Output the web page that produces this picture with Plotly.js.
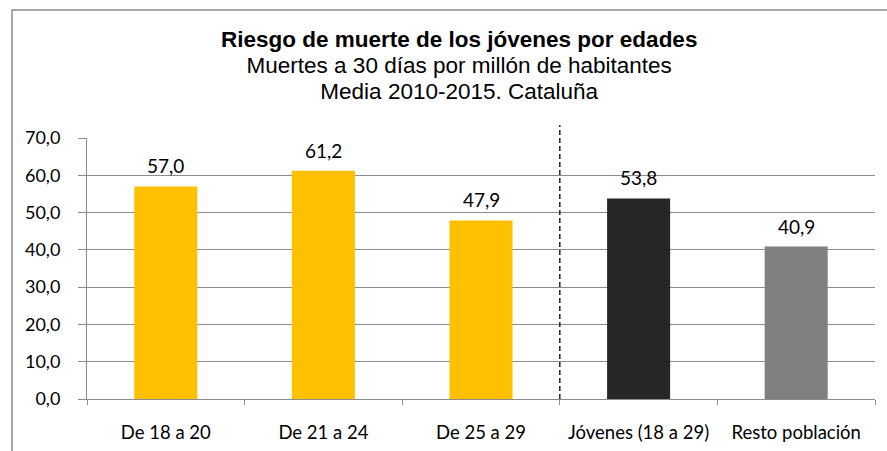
<!DOCTYPE html>
<html><head><meta charset="utf-8">
<script src="https://cdn.plot.ly/plotly-3.0.1.min.js"></script>
<style>html,body{margin:0;padding:0;background:#fff;}#chart{width:887px;height:451px;}</style>
</head><body><div id="chart"></div>
<script>
const categories = ["De 18 a 20", "De 21 a 24", "De 25 a 29", "Jóvenes (18 a 29)", "Resto población"];
const values = [57.0, 61.2, 47.9, 53.8, 40.9];
const barColors = ["#FFC000", "#FFC000", "#FFC000", "#262626", "#808080"];
const yTicks = [0, 10, 20, 30, 40, 50, 60, 70];
const titleLines = ["Riesgo de muerte de los jóvenes por edades", "Muertes a 30 días por millón de habitantes", "Media 2010-2015. Cataluña"];
const fmt = v => v.toFixed(1).replace('.', ',');

const trace = {
  type: 'bar', x: categories, y: values,
  marker: {color: barColors, line: {width: 0}},
  width: 0.4, hoverinfo: 'skip'
};
const annotations = categories.map((c, i) => ({
  x: c, y: values[i], xref: 'x', yref: 'y', text: fmt(values[i]),
  showarrow: false, yanchor: 'bottom', yshift: 7,
  font: {family: 'Lato, sans-serif', size: 19, color: '#000'}
}));
const big = s => '<span style="font-size:22.5px">' + s + '</span>';
annotations.push({
  xref: 'paper', yref: 'paper', x: 0.472, y: 1.279, xanchor: 'center', yanchor: 'middle',
  text: big('<b>' + titleLines[0] + '</b>') + '<br>' + big(titleLines[1]) + '<br>' + big(titleLines[2]),
  showarrow: false, align: 'center',
  font: {family: 'Liberation Sans, Arial, sans-serif', size: 20, color: '#000'}
});

const layout = {
  width: 887, height: 451,
  margin: {l: 87, r: 12, t: 138, b: 52},
  paper_bgcolor: '#fff', plot_bgcolor: '#fff',
  showlegend: false,
  separators: ',.',
  xaxis: {
    type: 'category', tickson: 'boundaries', ticks: 'outside', ticklen: 5, tickcolor: '#8c8c8c',
    showline: true, linecolor: '#8c8c8c', linewidth: 1, showgrid: false,
    tickfont: {family: 'Lato, sans-serif', size: 18.5, color: '#000'},
    ticklabelstandoff: 17, range: [-0.5, 4.5]
  },
  yaxis: {
    range: [0, 70], tickvals: yTicks, ticktext: yTicks.map(fmt),
    ticks: 'outside', ticklen: 8, tickcolor: '#8c8c8c',
    showline: true, linecolor: '#8c8c8c', linewidth: 1,
    showgrid: true, gridcolor: '#8c8c8c', gridwidth: 1, zeroline: false,
    tickfont: {family: 'Lato, sans-serif', size: 18, color: '#000'},
    ticklabelstandoff: 14
  },
  shapes: [
    {type: 'line', xref: 'x', yref: 'paper', x0: 2.5, x1: 2.5, y0: 0, y1: 1.05,
     line: {color: '#262626', width: 1.5, dash: '5px,3px'}},
    {type: 'rect', xref: 'paper', yref: 'paper', x0: -0.0952, x1: 1.2, y0: -0.3, y1: 1.4904,
     line: {color: '#8c8c8c', width: 1.5}, fillcolor: 'rgba(0,0,0,0)', layer: 'below'}
  ],
  annotations: annotations
};
Plotly.newPlot('chart', [trace], layout, {displayModeBar: false, staticPlot: true});
</script></body></html>
